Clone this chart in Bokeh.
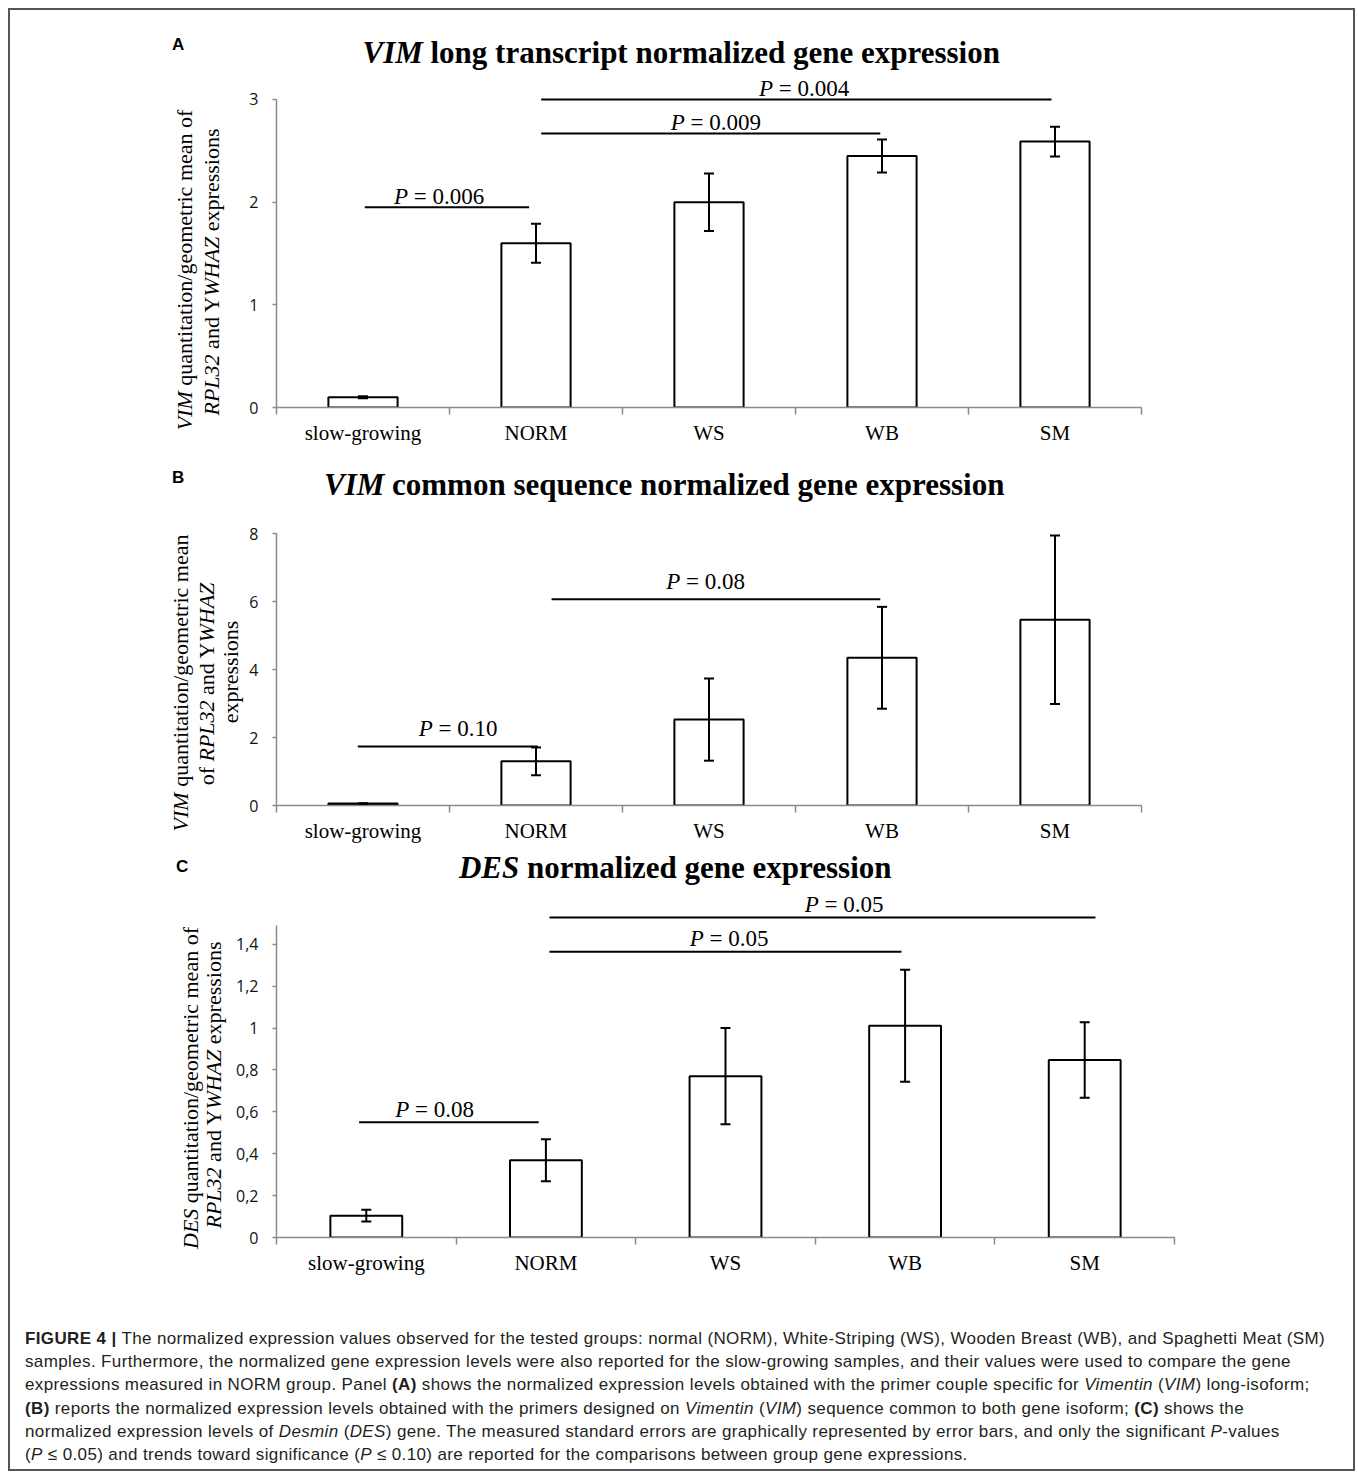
import math
from bokeh.plotting import figure
from bokeh.models import ColumnDataSource, Range1d, FixedTicker, Whisker, TeeHead, Label, Div
from bokeh.layouts import column, row
from bokeh.embed import file_html
from bokeh.resources import INLINE
from bokeh.core.properties import value

# ---------------- data ----------------
categories = ["slow-growing", "NORM", "WS", "WB", "SM"]

a_mean = [0.10, 1.60, 2.00, 2.45, 2.59]
a_err = [0.01, 0.19, 0.28, 0.16, 0.145]
a_yticks = [0, 1, 2, 3]
a_ytick_labels = ["0", "1", "2", "3"]
a_sig_x0 = [0.51, 1.53, 1.53]
a_sig_x1 = [1.46, 3.49, 4.48]
a_sig_y = [1.95, 2.67, 3.00]
a_sig_label_x = [0.94, 2.54, 3.05]
a_sig_p = ["0.006", "0.009", "0.004"]

b_mean = [0.06, 1.30, 2.53, 4.35, 5.47]
b_err = [0.0, 0.41, 1.21, 1.50, 2.48]
b_yticks = [0, 2, 4, 6, 8]
b_ytick_labels = ["0", "2", "4", "6", "8"]
b_sig_x0 = [0.47, 1.59]
b_sig_x1 = [1.51, 3.49]
b_sig_y = [1.74, 6.07]
b_sig_label_x = [1.05, 2.48]
b_sig_p = ["0.10", "0.08"]

c_mean = [0.104, 0.369, 0.770, 1.011, 0.847]
c_err = [0.028, 0.10, 0.23, 0.267, 0.18]
c_yticks = [0, 0.2, 0.4, 0.6, 0.8, 1.0, 1.2, 1.4]
c_ytick_labels = ["0", "0,2", "0,4", "0,6", "0,8", "1", "1,2", "1,4"]
c_sig_x0 = [0.46, 1.52, 1.52]
c_sig_x1 = [1.46, 3.48, 4.56]
c_sig_y = [0.55, 1.364, 1.527]
c_sig_label_x = [0.88, 2.52, 3.16]
c_sig_p = ["0.08", "0.05", "0.05"]

# ---------------- font metrics (Times-compatible, per 1000 em) ----------------
ROMAN = {' ': 250, '=': 564, '.': 250}
for _d in "0123456789":
    ROMAN[_d] = 500
ITALIC = {'P': 611, ' ': 250}
BOLD = {' ': 250, 'l': 278, 'o': 500, 'n': 556, 'g': 500, 't': 333, 'r': 444, 'a': 500,
        's': 389, 'c': 444, 'i': 278, 'p': 556, 'm': 833, 'z': 444, 'e': 444, 'd': 556,
        'x': 500, 'u': 556, 'q': 556}
BOLDITALIC = {'V': 667, 'I': 389, 'M': 889, 'D': 722, 'E': 667, 'S': 556, ' ': 250}
TABLES = {"r": (ROMAN, "normal"), "i": (ITALIC, "italic"), "b": (BOLD, "bold"),
          "bi": (BOLDITALIC, "bold italic")}


def tw(text, style, size):
    table = TABLES[style][0]
    return sum(table.get(ch, 500) for ch in text) / 1000.0 * size


SERIF = "Liberation Serif"
AXIS_GREY = "#8a8a8a"
PAGE_W = 1347
FRAME_LEFT_PAGE = 276
MID = 0.3375          # em offset from alphabetic baseline to middle


def strip_div(letter, top, height, left_w, letter_xy, axis_lines):
    parts = []
    lx = letter_xy[0] - 8
    ly = letter_xy[1] - top - 14.4
    parts.append('<div style="position:absolute;left:%.1fpx;top:%.1fpx;'
                 'font-family:\'Liberation Sans\',Arial,sans-serif;font-weight:bold;'
                 'font-size:17px;line-height:17px;color:#000;">%s</div>' % (lx, ly, letter))
    for html, cx, cy in axis_lines:
        parts.append('<div style="position:absolute;left:%.1fpx;top:%.1fpx;'
                     'transform:translate(-50%%,-50%%) rotate(-90deg);white-space:nowrap;'
                     'font-family:\'Liberation Serif\',serif;font-size:22px;line-height:22px;'
                     'color:#000;">%s</div>' % (cx - 8, cy - top, html))
    inner = ('<div style="position:relative;width:%dpx;height:%dpx;overflow:visible;">'
             % (left_w, height)) + "".join(parts) + "</div>"
    return Div(text=inner, width=left_w, height=height, margin=(0, 0, 0, 0))


def build_panel(letter, top, height, left_w, mt, mb, ppu, frame_right_page, ybounds,
                yticks, yticklabels, means, errs, sx0, sx1, sy, slx, sp, gap,
                title_runs, title_cx, title_base, axis_lines, letter_xy):
    main_w = PAGE_W - left_w
    ml = FRAME_LEFT_PAGE - 8 - left_w
    fw = frame_right_page - FRAME_LEFT_PAGE
    mr = main_w - ml - fw
    ppx = fw / 5.0
    frame_bottom = top + height - mb
    y_end = (height - mt - mb) / ppu

    def fx(px):
        return (px - FRAME_LEFT_PAGE) / ppx

    def fy(py):
        return (frame_bottom - py) / ppu

    s = strip_div(letter, top, height, left_w, letter_xy, axis_lines)

    p = figure(width=main_w, height=height, x_range=Range1d(0, 5), y_range=Range1d(0, y_end),
               output_backend="svg", toolbar_location=None, title=None,
               min_border_left=ml, min_border_right=mr,
               min_border_top=mt, min_border_bottom=mb)
    p.xgrid.visible = False
    p.ygrid.visible = False
    p.outline_line_color = None
    p.background_fill_color = None
    p.border_fill_color = None

    xa = p.xaxis[0]
    xa.ticker = FixedTicker(ticks=[i + 0.5 for i in range(5)], minor_ticks=list(range(6)))
    xa.major_label_overrides = {i + 0.5: c for i, c in enumerate(categories)}
    xa.major_tick_out = 0
    xa.major_tick_in = 0
    xa.minor_tick_out = 7
    xa.minor_tick_in = 0
    xa.minor_tick_line_color = AXIS_GREY
    xa.minor_tick_line_width = 1.5
    xa.axis_line_color = AXIS_GREY
    xa.axis_line_width = 1.5
    xa.major_label_text_font = SERIF
    xa.major_label_text_font_size = "21px"
    xa.major_label_text_color = "black"
    xa.major_label_standoff = 6

    ya = p.yaxis[0]
    ya.ticker = FixedTicker(ticks=yticks, minor_ticks=[])
    ya.major_label_overrides = {t: l for t, l in zip(yticks, yticklabels)}
    ya.bounds = ybounds
    ya.major_tick_out = 4
    ya.major_tick_in = 0
    ya.major_tick_line_color = AXIS_GREY
    ya.major_tick_line_width = 1.5
    ya.minor_tick_line_color = None
    ya.axis_line_color = AXIS_GREY
    ya.axis_line_width = 1.5
    ya.major_label_text_font = "Open Sans"
    ya.major_label_text_font_size = "16px"
    ya.major_label_text_color = "#111111"
    ya.major_label_standoff = 14

    xs = [i + 0.5 for i in range(5)]
    src = ColumnDataSource(dict(x=xs, top=means,
                                upper=[m + e for m, e in zip(means, errs)],
                                lower=[m - e for m, e in zip(means, errs)]))
    p.vbar(x="x", top="top", bottom=0, width=0.4, source=src,
           fill_color="white", line_color="black", line_width=2)
    wk = Whisker(source=src, base="x", upper="upper", lower="lower",
                 line_color="black", line_width=2, level="annotation",
                 upper_head=TeeHead(size=10, line_color="black", line_width=2),
                 lower_head=TeeHead(size=10, line_color="black", line_width=2))
    p.add_layout(wk)

    # significance brackets
    psize = 23
    p_off, r_off, rest = [], [], []
    for v in sp:
        r = "= " + v
        wP = tw("P", "i", psize)
        total = wP + tw(" ", "r", psize) + tw(r, "r", psize)
        p_off.append(-total / 2.0)
        r_off.append(-total / 2.0 + wP + tw(" ", "r", psize))
        rest.append(r)
    yoff = -(gap + MID * psize)
    ssrc = ColumnDataSource(dict(x0=sx0, x1=sx1, y=sy, lx=slx,
                                 ptxt=["P"] * len(sp), rtxt=rest, poff=p_off, roff=r_off))
    p.segment(x0="x0", y0="y", x1="x1", y1="y", source=ssrc, line_color="black", line_width=2)
    p.text(x="lx", y="y", text="ptxt", x_offset="poff", y_offset=yoff, source=ssrc,
           text_font=value(SERIF), text_font_style="italic", text_font_size="23px",
           text_align="left", text_baseline="middle", text_color="black")
    p.text(x="lx", y="y", text="rtxt", x_offset="roff", y_offset=yoff, source=ssrc,
           text_font=value(SERIF), text_font_style="normal", text_font_size="23px",
           text_align="left", text_baseline="middle", text_color="black")

    # title (mixed italic/bold runs)
    tsize = 31
    total = sum(tw(t, st, tsize) for t, st in title_runs)
    cur = title_cx - total / 2.0
    for t, st in title_runs:
        lead = len(t) - len(t.lstrip(" "))
        p.add_layout(Label(x=fx(cur + lead * tw(" ", st, tsize)), y=fy(title_base - MID * tsize),
                           text=t.strip(), text_font=SERIF, text_font_style=TABLES[st][1],
                           text_font_size="%dpx" % tsize, text_color="black",
                           text_align="left", text_baseline="middle"))
        cur += tw(t, st, tsize)

    return row(s, p, spacing=0)


line2_html = "<i>RPL32</i> and Y<i>WHAZ</i> expressions"

rowA = build_panel("A", 8, 442, 222, 12, 43, 102.667, 1141, (0, 3), a_yticks, a_ytick_labels,
                   a_mean, a_err, a_sig_x0, a_sig_x1, a_sig_y, a_sig_label_x, a_sig_p, 3,
                   [("VIM", "bi"), (" long transcript normalized gene expression", "b")], 681, 62,
                   [("<i>VIM</i> quantitation/geometric mean of", 185, 270),
                    (line2_html, 212, 272)],
                   (172, 50))

rowB = build_panel("B", 450, 398, 238, 10, 43, 33.96, 1141, (0, 8), b_yticks, b_ytick_labels,
                   b_mean, b_err, b_sig_x0, b_sig_x1, b_sig_y, b_sig_label_x, b_sig_p, 10,
                   [("VIM", "bi"), (" common sequence normalized gene expression", "b")], 664, 494,
                   [("<i>VIM</i> quantitation/geometric mean", 181, 683),
                    ("of <i>RPL32</i> and Y<i>WHAZ</i>", 207, 684),
                    ("expressions", 231, 672)],
                   (172, 483))

rowC = build_panel("C", 848, 442, 222, 7, 53, 209.5, 1174, (0, 1.49), c_yticks, c_ytick_labels,
                   c_mean, c_err, c_sig_x0, c_sig_x1, c_sig_y, c_sig_label_x, c_sig_p, 5,
                   [("DES", "bi"), (" normalized gene expression", "b")], 675, 877,
                   [("<i>DES</i> quantitation/geometric mean of", 191, 1088),
                    (line2_html, 214, 1085)],
                   (176, 872))

caption_html = (
    '<div style="font-family:\'Liberation Sans\',Arial,sans-serif;font-size:17px;letter-spacing:0.37px;'
    'line-height:23.2px;color:#231f20;padding:37px 0 0 17px;white-space:nowrap;">'
    '<b>FIGURE 4 |</b> The normalized expression values observed for the tested groups: normal (NORM), '
    'White-Striping (WS), Wooden Breast (WB), and Spaghetti Meat (SM)<br>'
    'samples. Furthermore, the normalized gene expression levels were also reported for the slow-growing '
    'samples, and their values were used to compare the gene<br>'
    'expressions measured in NORM group. Panel <b>(A)</b> shows the normalized expression levels obtained '
    'with the primer couple specific for <i>Vimentin</i> (<i>VIM</i>) long-isoform;<br>'
    '<b>(B)</b> reports the normalized expression levels obtained with the primers designed on '
    '<i>Vimentin</i> (<i>VIM</i>) sequence common to both gene isoform; <b>(C)</b> shows the<br>'
    'normalized expression levels of <i>Desmin</i> (<i>DES</i>) gene. The measured standard errors are '
    'graphically represented by error bars, and only the significant <i>P</i>-values<br>'
    '(<i>P</i> &le; 0.05) and trends toward significance (<i>P</i> &le; 0.10) are reported for the '
    'comparisons between group gene expressions.'
    '</div>'
)
cap = Div(text=caption_html, width=PAGE_W, height=181, margin=(0, 0, 0, 0))

layout = column(rowA, rowB, rowC, cap, spacing=0, margin=(8, 0, 0, 8),
                styles={"outline": "2px solid #555555", "outline-offset": "-2px"})

open("out.html", "w").write(file_html(layout, INLINE))
